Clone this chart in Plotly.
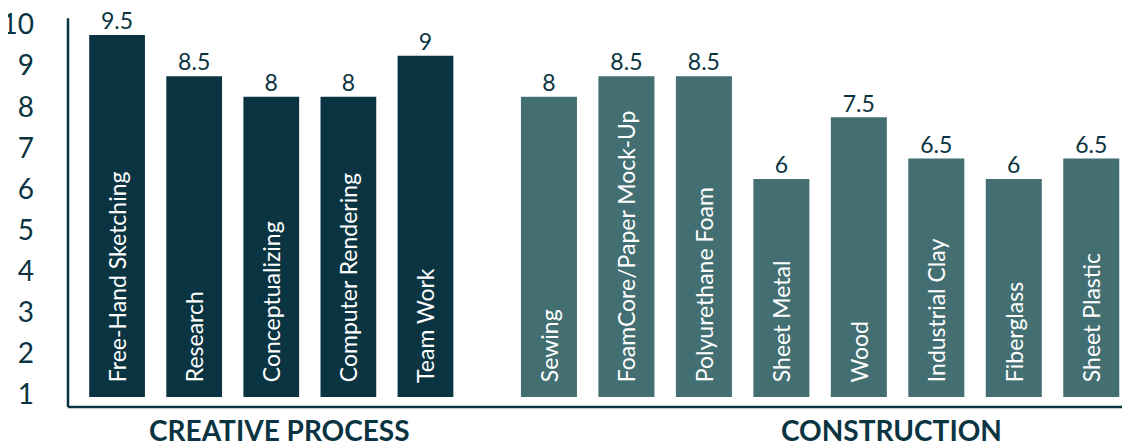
import plotly.graph_objects as go

# ---- data ----
creative_labels = ["Free-Hand Sketching", "Research", "Conceptualizing",
                   "Computer Rendering", "Team Work"]
creative_values = [9.5, 8.5, 8, 8, 9]

construction_labels = ["Sewing", "FoamCore/Paper Mock-Up", "Polyurethane Foam",
                       "Sheet Metal", "Wood", "Industrial Clay", "Fiberglass",
                       "Sheet Plastic"]
construction_values = [8, 8.5, 8.5, 6, 7.5, 6.5, 6, 6.5]

group_titles = ["CREATIVE PROCESS", "CONSTRUCTION"]
y_ticks = [1, 2, 3, 4, 5, 6, 7, 8, 9, 10]

# ---- styles ----
DARK = "#0a3441"
LIGHT = "#436f73"
FONT = "Lato"
BAR_BASE = 0.70        # value where the bars visually start
Y_RANGE = [0.70, 10.11]

fig = go.Figure()


def add_group(labels, values, color, xaxis):
    fig.add_trace(go.Bar(
        x=labels,
        y=[v - BAR_BASE for v in values],
        base=BAR_BASE,
        customdata=values,
        marker=dict(color=color, line=dict(width=0)),
        text=labels,
        texttemplate="\u00a0\u00a0%{text}",
        textposition="inside",
        insidetextanchor="start",
        textangle=-90,
        constraintext="none",
        insidetextfont=dict(family=FONT, size=23, color="white"),
        hovertemplate="%{x}: %{customdata}<extra></extra>",
        xaxis=xaxis, yaxis="y",
        showlegend=False,
    ))
    fig.add_trace(go.Scatter(
        x=labels,
        y=values,
        mode="text",
        text=[f"{v:g}" for v in values],
        textposition="top center",
        textfont=dict(family=FONT, size=23, color=DARK),
        cliponaxis=False,
        hoverinfo="skip",
        xaxis=xaxis, yaxis="y",
        showlegend=False,
    ))


add_group(creative_labels, creative_values, DARK, "x")
add_group(construction_labels, construction_values, LIGHT, "x2")

axis_common = dict(showticklabels=False, showgrid=False, zeroline=False,
                   showline=False, ticks="", fixedrange=True, automargin=False)

# the page body adds an 8px offset, so the figure is 8px smaller than the window
fig.update_layout(
    width=1122, height=435,
    margin=dict(l=60, r=0, t=2, b=46, autoexpand=False),
    paper_bgcolor="white", plot_bgcolor="white",
    bargap=0.277,
    font=dict(family=FONT, color=DARK),
    xaxis=dict(domain=[0.0099, 0.3729], anchor="y", **axis_common),
    xaxis2=dict(domain=[0.4164, 1.0], anchor="y", **axis_common),
    yaxis=dict(range=Y_RANGE, anchor="free", position=0,
               tickmode="array", tickvals=y_ticks,
               ticktext=[str(t) for t in y_ticks],
               tickfont=dict(family=FONT, size=28, color=DARK),
               ticklabelshift=10, ticklabelstandoff=34,
               ticklabeloverflow="allow",
               showgrid=False, zeroline=False, showline=False, ticks="",
               fixedrange=True, automargin=False),
    shapes=[
        dict(type="line", xref="paper", yref="paper", x0=0, x1=0,
             y0=-0.0258, y1=0.979, line=dict(color=DARK, width=2.5)),
        dict(type="line", xref="paper", yref="paper", x0=0, x1=1.0,
             y0=-0.0258, y1=-0.0258, line=dict(color=DARK, width=2.5)),
    ],
    annotations=[
        dict(text=f"<b>{group_titles[0]}</b>", xref="paper", yref="paper",
             x=0.1987, y=-0.0853, showarrow=False, xanchor="center",
             yanchor="middle", font=dict(family=FONT, size=28, color=DARK)),
        dict(text=f"<b>{group_titles[1]}</b>", xref="paper", yref="paper",
             x=0.7754, y=-0.0853, showarrow=False, xanchor="center",
             yanchor="middle", font=dict(family=FONT, size=28, color=DARK)),
    ],
)

fig.write_html("out.html")
